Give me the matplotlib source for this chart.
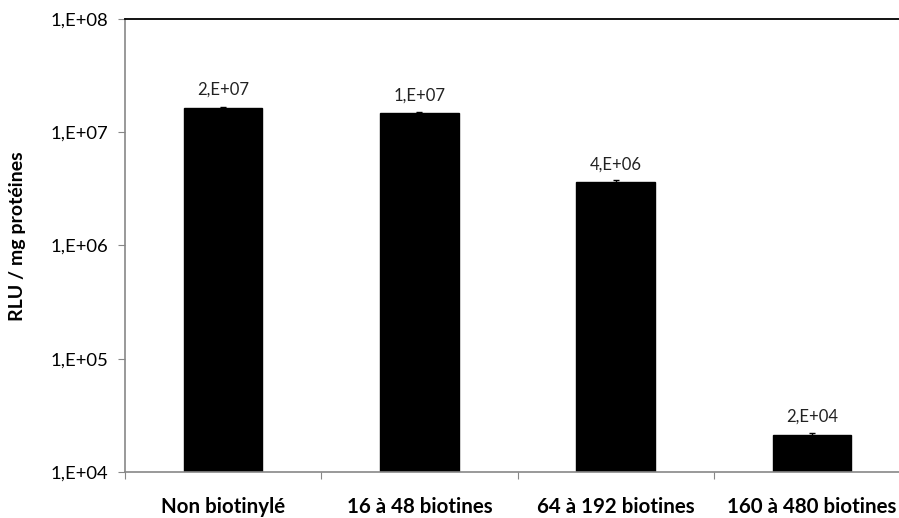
import matplotlib
matplotlib.use('Agg')
import matplotlib.pyplot as plt
from matplotlib.ticker import FixedLocator, NullFormatter, FuncFormatter

# data
categories = ["Non biotinylé", "16 à 48 biotines", "64 à 192 biotines", "160 à 480 biotines"]
values = [1.65e7, 1.48e7, 3.6e6, 2.13e4]
errors = [2.0e5, 1.5e5, 2.0e5, 6.0e2]
y_ticks = [1e4, 1e5, 1e6, 1e7, 1e8]

AXIS_GREY = "#878787"

plt.rcParams['font.family'] = ['Lato', 'DejaVu Sans']

fig = plt.figure(figsize=(8.99, 5.18), dpi=100)
ax = fig.add_axes([125 / 899, 1 - 472 / 518, (910 - 125) / 899, (472 - 19) / 518])

x = list(range(len(categories)))
ax.bar(x, values, width=0.40, color='black', edgecolor='black', zorder=2)
ax.errorbar(x, values, yerr=errors, fmt='none', ecolor='black',
            elinewidth=1.0, capsize=2.5, capthick=1.0, zorder=3)

# value labels, Excel "0,E+00" style
for xi, v in zip(x, values):
    lbl = f"{v:.0E}".replace("E", ",E")
    ax.annotate(lbl, (xi, v), xytext=(0, 7), textcoords='offset points',
                ha='center', va='bottom', fontsize=12, color='#222222')

ax.set_yscale('log')
ax.set_ylim(1e4, 1e8)
ax.set_xlim(-0.5, len(categories) - 0.5)
ax.yaxis.set_major_locator(FixedLocator(y_ticks))
ax.yaxis.set_minor_locator(FixedLocator([]))
ax.yaxis.set_major_formatter(FuncFormatter(lambda v, p: f"{v:.0E}".replace("E", ",E")))

# category separators as major ticks, names on minor ticks
ax.xaxis.set_major_locator(FixedLocator([i - 0.5 for i in range(len(categories) + 1)]))
ax.xaxis.set_major_formatter(NullFormatter())
ax.xaxis.set_minor_locator(FixedLocator(x))
ax.set_xticklabels(categories, minor=True, fontsize=14.8, fontweight='bold')
ax.tick_params(axis='x', which='major', length=5, color=AXIS_GREY, direction='out')
ax.tick_params(axis='x', which='minor', length=0, pad=18)
ax.tick_params(axis='y', which='major', length=5, color=AXIS_GREY, labelsize=13.3, pad=7)

ax.set_ylabel("RLU / mg protéines", fontsize=14, fontweight='bold', labelpad=10)
ax.yaxis.set_label_coords(-0.126, 0.52)

for side in ('left', 'bottom'):
    ax.spines[side].set_color(AXIS_GREY)
    ax.spines[side].set_linewidth(1.2)
ax.spines['right'].set_visible(False)
ax.spines['top'].set_color('black')
ax.spines['top'].set_linewidth(1.3)

fig.savefig('out.png', dpi=100, facecolor='white')
